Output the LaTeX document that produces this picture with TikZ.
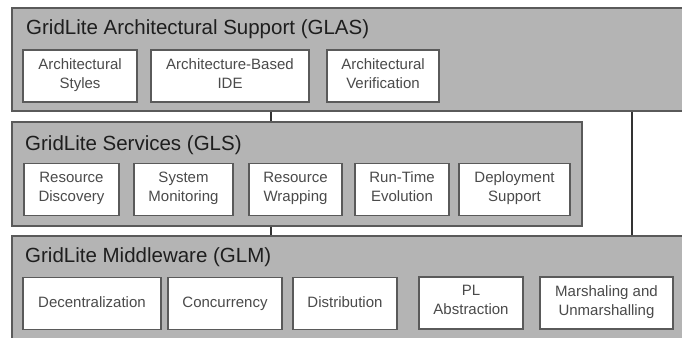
\documentclass[tikz,border=0pt]{standalone}
\usepackage{fontspec}
\setmainfont{Liberation Sans}
\usepackage{xcolor}
\usepackage{tikz}
\usetikzlibrary{shapes,arrows,positioning,calc}
\definecolor{layergray}{HTML}{B4B4B4}
\definecolor{edgegray}{HTML}{5A5A5A}
\definecolor{textgray}{HTML}{4A4A4A}
\definecolor{titleblack}{HTML}{1E1E1E}

\begin{document}
\begin{tikzpicture}[x=1pt, y=-1pt,
    layer/.style={rectangle, draw=edgegray, fill=layergray, line width=1.6pt, inner sep=0pt},
    layertitle/.style={anchor=base west, inner sep=0pt, text=titleblack,
                       font=\fontsize{20.5}{24}\selectfont},
    module/.style={rectangle, draw=edgegray, fill=white, line width=1.3pt, text=textgray,
                   align=center, inner sep=0pt, minimum height=52pt,
                   font=\fontsize{15}{19}\selectfont,
                   execute at begin node=\strut, execute at end node=\strut},
    link/.style={line width=1.2pt, color=black!80}
]
    \clip (0,0) rectangle (682,337);
    \fill[white] (0,0) rectangle (682,337);

    % Architectural Support layer
    \node[layer, minimum width=688pt, minimum height=103pt] (glas) at (356,59.5) {};
    \node[layertitle] (glastitle) at (26,35) {GridLite Architectural Support (GLAS)};
    \node[module, minimum width=114pt] (styles) at (80,76) {Architectural\\Styles};
    \node[module, minimum width=158pt] (ide) at (230,76) {Architecture-Based\\IDE};
    \node[module, minimum width=112pt] (verif) at (383,76) {Architectural\\Verification};

    % Services layer
    \node[layer, minimum width=570pt, minimum height=104pt] (gls) at (297,174) {};
    \node[layertitle] (glstitle) at (25,150) {GridLite Services (GLS)};
    \node[module, minimum width=95pt] (discovery) at (71.5,189.5) {Resource\\Discovery};
    \node[module, minimum width=99pt] (monitoring) at (183.5,189.5) {System\\Monitoring};
    \node[module, minimum width=93pt] (wrapping) at (295.5,189.5) {Resource\\Wrapping};
    \node[module, minimum width=94pt] (evolution) at (402,189.5) {Run-Time\\Evolution};
    \node[module, minimum width=111pt] (deploy) at (514.5,189.5) {Deployment\\Support};

    % Middleware layer
    \node[layer, minimum width=688pt, minimum height=114pt] (glm) at (356,293) {};
    \node[layertitle] (glmtitle) at (25,262) {GridLite Middleware (GLM)};
    \node[module, minimum width=138pt] (decentral) at (92,303.5) {Decentralization};
    \node[module, minimum width=114pt] (concurrency) at (225,303.5) {Concurrency};
    \node[module, minimum width=104pt] (distribution) at (345,303.5) {Distribution};
    \node[module, minimum width=104pt] (plabs) at (471,303) {PL\\Abstraction};
    \node[module, minimum width=133pt] (marshal) at (606.5,303) {Marshaling and\\Unmarshalling};

    % Connections
    \coordinate (left) at (271,0);
    \coordinate (right) at (632,0);
    \draw[link] (left |- glas.south) -- (left |- gls.north);
    \draw[link] (left |- gls.south) -- (left |- glm.north);
    \draw[link] (right |- glas.south) -- (right |- glm.north);
\end{tikzpicture}
\end{document}
